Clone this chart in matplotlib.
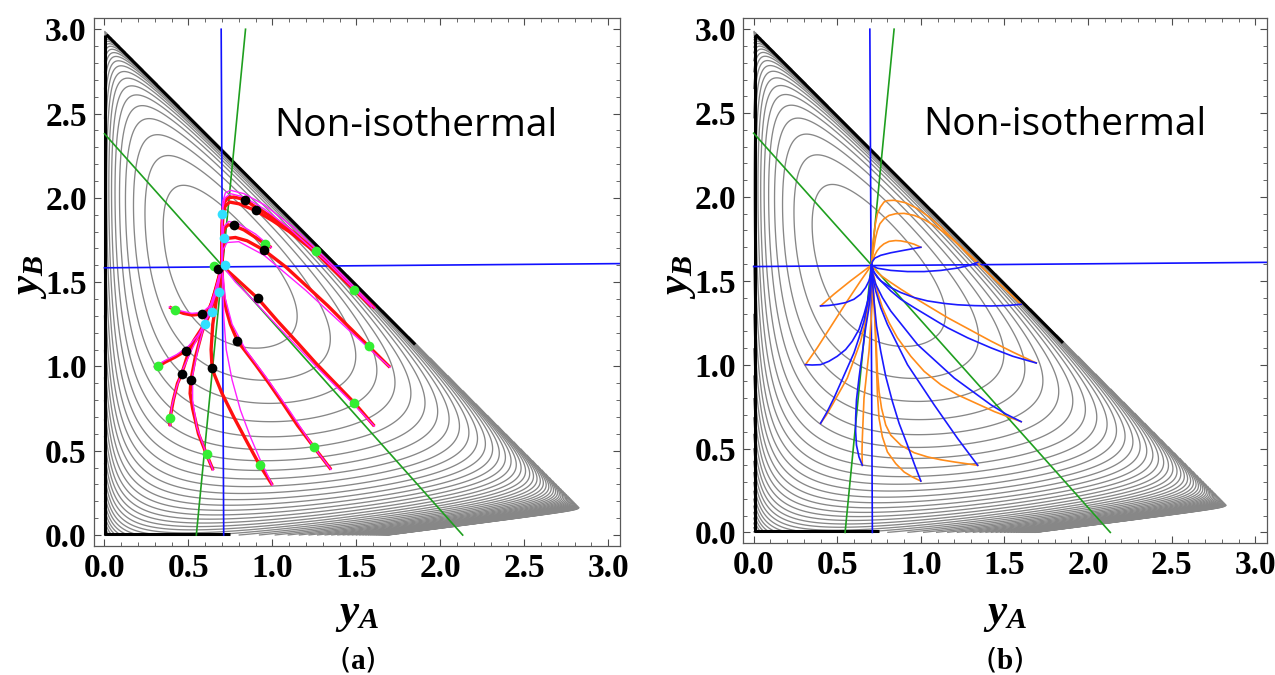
import numpy as np
import matplotlib.pyplot as plt

plt.rcParams['mathtext.fontset'] = 'custom'
plt.rcParams['mathtext.it'] = 'Liberation Serif:italic:bold'
plt.rcParams['mathtext.rm'] = 'Liberation Serif'
plt.rcParams['mathtext.bf'] = 'Liberation Serif:bold'
plt.rcParams['contour.negative_linestyle'] = 'solid'

# ---- background level function (gray contour lines) ----
# F = W_A ln(yA + S_A) + W_B ln(yB + S_B - K yA) + W_C ln(TOTAL - yA - yB)
W_A, W_B, W_C = 0.836, 1.729, 0.70
S_A, S_B, K_TILT = 0.04, 0.22, 0.128
TOTAL = 3.0
CLIP_SUM = 2.99
EQ_POINT = (0.70, 1.60)
LEVEL_STEP = 0.17
LOWEST_LEVEL = -9.0

# ---- guide lines (same in both panels) ----
blue_vert_x, blue_vert_y = [0.71, 0.695], [0.0, 3.0]
blue_horz_x, blue_horz_y = [0.0, 3.07], [1.585, 1.61]
green_steep_x, green_steep_y = [0.547, 0.84], [0.0, 3.0]
green_diag_x, green_diag_y = [0.0, 2.133], [2.38, 0.0]

# dense edges of the level set family
edge_left_x, edge_left_y = [0.006, 0.006], [0.0, 2.965]
edge_hyp_x, edge_hyp_y = [0.012, 1.85], [2.968, 1.13]
edge_bot_x, edge_bot_y = [0.0, 0.75], [0.006, 0.006]

# ---- panel (a): trajectories, red = model 1, magenta = model 2 ----
red_curves = [
    [(1.61, 1.345), (1.49, 1.455), (1.36, 1.58), (1.24, 1.70), (1.12, 1.80), (1.0, 1.885),
     (0.90, 1.945), (0.835, 1.99), (0.77, 2.005), (0.735, 2.0), (0.715, 1.975), (0.705, 1.93),
     (0.70, 1.85), (0.70, 1.75), (0.70, 1.60)],
    [(1.59, 1.355), (1.45, 1.49), (1.35, 1.585), (1.26, 1.675), (1.10, 1.80), (1.0, 1.865),
     (0.90, 1.925), (0.80, 1.965), (0.745, 1.975), (0.718, 1.95), (0.706, 1.90), (0.70, 1.80),
     (0.70, 1.60)],
    [(0.994, 1.705), (0.954, 1.729), (0.90, 1.765), (0.83, 1.81), (0.77, 1.835), (0.735, 1.84),
     (0.715, 1.82), (0.705, 1.78), (0.70, 1.70), (0.70, 1.60)],
    [(1.70, 0.995), (1.573, 1.12), (1.45, 1.24), (1.33, 1.36), (1.20, 1.48), (1.08, 1.59),
     (0.95, 1.69), (0.85, 1.745), (0.78, 1.765), (0.735, 1.76), (0.712, 1.73), (0.703, 1.67),
     (0.70, 1.60)],
    [(1.607, 0.646), (1.488, 0.784), (1.37, 0.905), (1.26, 1.018), (1.15, 1.14), (1.03, 1.27),
     (0.912, 1.405), (0.84, 1.47), (0.78, 1.525), (0.73, 1.57), (0.70, 1.60)],
    [(1.349, 0.389), (1.245, 0.524), (1.15, 0.65), (1.063, 0.78), (0.98, 0.90), (0.90, 1.01),
     (0.792, 1.152), (0.75, 1.25), (0.726, 1.334), (0.71, 1.42), (0.703, 1.50), (0.70, 1.60)],
    [(1.0, 0.296), (0.924, 0.415), (0.85, 0.55), (0.77, 0.70), (0.70, 0.84), (0.655, 0.95),
     (0.641, 0.988), (0.635, 1.10), (0.645, 1.25), (0.67, 1.42), (0.70, 1.60)],
    [(0.647, 0.385), (0.608, 0.478), (0.56, 0.60), (0.525, 0.75), (0.51, 0.84), (0.515, 0.919),
     (0.54, 1.05), (0.58, 1.20), (0.64, 1.38), (0.70, 1.60)],
    [(0.39, 0.646), (0.39, 0.692), (0.41, 0.80), (0.435, 0.90), (0.459, 0.954), (0.49, 1.05),
     (0.53, 1.15), (0.598, 1.255), (0.635, 1.37), (0.67, 1.48), (0.70, 1.60)],
    [(0.295, 0.998), (0.32, 1.0), (0.36, 1.025), (0.42, 1.055), (0.485, 1.093), (0.54, 1.15),
     (0.59, 1.23), (0.627, 1.314), (0.66, 1.42), (0.685, 1.51), (0.70, 1.60)],
    [(0.386, 1.353), (0.42, 1.334), (0.47, 1.315), (0.52, 1.305), (0.578, 1.31), (0.62, 1.34),
     (0.671, 1.436), (0.69, 1.52), (0.70, 1.60)],
    [(0.64, 1.595), (0.677, 1.578), (0.70, 1.60)],
]
magenta_curves = [
    [(1.61, 1.345), (1.36, 1.60), (1.12, 1.83), (0.95, 1.96), (0.83, 2.025), (0.75, 2.045),
     (0.72, 2.03), (0.705, 1.98), (0.70, 1.85), (0.70, 1.60)],
    [(1.59, 1.355), (1.35, 1.595), (1.10, 1.82), (0.95, 1.935), (0.83, 2.005), (0.75, 2.025),
     (0.718, 2.0), (0.705, 1.94), (0.70, 1.80), (0.70, 1.60)],
    [(0.994, 1.705), (0.90, 1.785), (0.80, 1.845), (0.74, 1.86), (0.71, 1.83), (0.70, 1.70),
     (0.70, 1.60)],
    [(1.70, 0.995), (1.45, 1.22), (1.20, 1.45), (0.95, 1.66), (0.80, 1.74), (0.73, 1.735),
     (0.705, 1.69), (0.70, 1.60)],
    [(1.607, 0.646), (1.49, 0.77), (1.26, 1.0), (1.03, 1.24), (0.88, 1.40), (0.78, 1.50),
     (0.72, 1.575), (0.70, 1.60)],
    [(1.349, 0.389), (1.24, 0.53), (1.10, 0.74), (0.96, 0.94), (0.84, 1.10), (0.76, 1.25),
     (0.72, 1.40), (0.70, 1.60)],
    [(1.0, 0.296), (0.93, 0.44), (0.87, 0.58), (0.81, 0.74), (0.76, 0.92), (0.725, 1.10),
     (0.71, 1.30), (0.70, 1.60)],
    [(0.647, 0.385), (0.60, 0.50), (0.55, 0.64), (0.525, 0.80), (0.525, 0.95), (0.56, 1.12),
     (0.61, 1.30), (0.66, 1.45), (0.70, 1.60)],
    [(0.39, 0.646), (0.40, 0.76), (0.43, 0.88), (0.47, 0.99), (0.52, 1.10), (0.58, 1.22),
     (0.64, 1.38), (0.70, 1.60)],
    [(0.295, 0.998), (0.36, 1.035), (0.43, 1.07), (0.50, 1.12), (0.56, 1.19), (0.62, 1.30),
     (0.67, 1.45), (0.70, 1.60)],
    [(0.386, 1.353), (0.45, 1.33), (0.52, 1.315), (0.58, 1.32), (0.63, 1.36), (0.67, 1.44),
     (0.70, 1.60)],
]
green_dots_x = [1.488, 1.26, 0.954, 1.573, 1.488, 1.245, 0.924, 0.608, 0.39, 0.32, 0.42, 0.651]
green_dots_y = [1.456, 1.685, 1.729, 1.12, 0.784, 0.524, 0.415, 0.478, 0.692, 1.0, 1.334, 1.594]
black_dots_x = [0.835, 0.90, 0.77, 0.95, 0.912, 0.792, 0.641, 0.515, 0.459, 0.485, 0.578, 0.677]
black_dots_y = [1.99, 1.93, 1.84, 1.69, 1.405, 1.152, 0.988, 0.919, 0.954, 1.093, 1.31, 1.577]
cyan_dots_x = [0.70, 0.71, 0.72, 0.68, 0.64, 0.60]
cyan_dots_y = [1.907, 1.76, 1.60, 1.44, 1.32, 1.25]

# ---- panel (b): trajectories, blue = model 1, orange = model 2 ----
blue_curves = [
    [(0.705, 1.594), (0.71, 1.615), (0.725, 1.635), (0.76, 1.652), (0.82, 1.667), (0.90, 1.682),
     (1.0, 1.70)],
    [(0.705, 1.594), (0.74, 1.575), (0.82, 1.562), (0.92, 1.555), (1.02, 1.555), (1.12, 1.562),
     (1.22, 1.576), (1.29, 1.592), (1.34, 1.61)],
    [(0.705, 1.594), (0.72, 1.55), (0.76, 1.50), (0.82, 1.46), (0.88, 1.43), (0.96, 1.40),
     (1.04, 1.38), (1.14, 1.365), (1.22, 1.357), (1.32, 1.352), (1.42, 1.35), (1.52, 1.353),
     (1.60, 1.36)],
    [(0.705, 1.594), (0.715, 1.56), (0.74, 1.52), (0.78, 1.48), (0.82, 1.44), (0.88, 1.39),
     (0.96, 1.34), (1.06, 1.28), (1.16, 1.22), (1.28, 1.16), (1.42, 1.10), (1.55, 1.05),
     (1.69, 1.01)],
    [(0.705, 1.594), (0.712, 1.54), (0.73, 1.48), (0.77, 1.40), (0.82, 1.32), (0.90, 1.22),
     (0.98, 1.12), (1.09, 1.02), (1.20, 0.92), (1.31, 0.84), (1.42, 0.76), (1.51, 0.705),
     (1.60, 0.66)],
    [(0.705, 1.594), (0.712, 1.52), (0.73, 1.44), (0.76, 1.34), (0.80, 1.24), (0.86, 1.12),
     (0.92, 1.0), (1.0, 0.88), (1.08, 0.76), (1.15, 0.66), (1.22, 0.56), (1.28, 0.48),
     (1.34, 0.40)],
    [(0.705, 1.594), (0.71, 1.50), (0.72, 1.38), (0.735, 1.23), (0.76, 1.08), (0.79, 0.93),
     (0.83, 0.78), (0.87, 0.65), (0.92, 0.52), (0.96, 0.41), (1.0, 0.306)],
    [(0.705, 1.594), (0.703, 1.52), (0.70, 1.44), (0.688, 1.33), (0.67, 1.22), (0.65, 1.07),
     (0.63, 0.92), (0.615, 0.79), (0.61, 0.68), (0.61, 0.60), (0.615, 0.52), (0.63, 0.45),
     (0.65, 0.40)],
    [(0.705, 1.594), (0.70, 1.50), (0.68, 1.36), (0.66, 1.26), (0.63, 1.16), (0.60, 1.07),
     (0.56, 0.98), (0.52, 0.89), (0.48, 0.80), (0.44, 0.72), (0.40, 0.65)],
    [(0.705, 1.594), (0.703, 1.54), (0.70, 1.48), (0.685, 1.39), (0.66, 1.30), (0.63, 1.21),
     (0.59, 1.14), (0.55, 1.09), (0.50, 1.05), (0.45, 1.02), (0.40, 1.0), (0.35, 0.998),
     (0.31, 1.0)],
    [(0.705, 1.594), (0.70, 1.54), (0.69, 1.50), (0.67, 1.46), (0.64, 1.42), (0.60, 1.39),
     (0.55, 1.37), (0.50, 1.36), (0.45, 1.353), (0.40, 1.35)],
]
orange_curves = [
    [(1.0, 1.70), (0.96, 1.718), (0.92, 1.73), (0.88, 1.738), (0.849, 1.74), (0.81, 1.735),
     (0.779, 1.72), (0.755, 1.70), (0.739, 1.68), (0.725, 1.655), (0.715, 1.63), (0.705, 1.594)],
    [(1.34, 1.61), (1.28, 1.665), (1.22, 1.72), (1.15, 1.78), (1.08, 1.83), (1.02, 1.865),
     (0.96, 1.89), (0.90, 1.902), (0.85, 1.90), (0.81, 1.89), (0.78, 1.87), (0.755, 1.84),
     (0.74, 1.80), (0.728, 1.75), (0.72, 1.70), (0.712, 1.65), (0.705, 1.594)],
    [(1.60, 1.36), (1.52, 1.435), (1.44, 1.51), (1.36, 1.585), (1.28, 1.66), (1.20, 1.74),
     (1.12, 1.82), (1.05, 1.88), (0.98, 1.93), (0.91, 1.965), (0.84, 1.98), (0.80, 1.978),
     (0.78, 1.97), (0.758, 1.94), (0.74, 1.90), (0.728, 1.84), (0.72, 1.78), (0.713, 1.72),
     (0.71, 1.66), (0.705, 1.594)],
    [(1.69, 1.01), (1.55, 1.075), (1.42, 1.14), (1.29, 1.21), (1.16, 1.28), (1.06, 1.34),
     (0.96, 1.40), (0.88, 1.45), (0.82, 1.49), (0.77, 1.525), (0.74, 1.55), (0.705, 1.594)],
    [(1.60, 0.66), (1.52, 0.69), (1.44, 0.72), (1.33, 0.77), (1.22, 0.82), (1.12, 0.88),
     (1.02, 0.96), (0.94, 1.05), (0.86, 1.16), (0.81, 1.25), (0.77, 1.34), (0.745, 1.42),
     (0.73, 1.48), (0.705, 1.594)],
    [(1.34, 0.40), (1.27, 0.41), (1.20, 0.42), (1.12, 0.433), (1.04, 0.45), (0.96, 0.475),
     (0.88, 0.52), (0.82, 0.58), (0.79, 0.64), (0.765, 0.74), (0.75, 0.84), (0.74, 0.96),
     (0.735, 1.08), (0.728, 1.23), (0.72, 1.38), (0.705, 1.594)],
    [(1.0, 0.306), (0.95, 0.33), (0.90, 0.36), (0.85, 0.41), (0.80, 0.48), (0.77, 0.57),
     (0.75, 0.68), (0.74, 0.83), (0.735, 0.98), (0.728, 1.18), (0.72, 1.38), (0.705, 1.594)],
    [(0.65, 0.40), (0.648, 0.48), (0.65, 0.56), (0.655, 0.68), (0.66, 0.80), (0.675, 0.94),
     (0.69, 1.08), (0.70, 1.23), (0.71, 1.38), (0.705, 1.594)],
    [(0.40, 0.65), (0.435, 0.70), (0.47, 0.76), (0.515, 0.84), (0.56, 0.92), (0.60, 1.03),
     (0.64, 1.14), (0.67, 1.26), (0.69, 1.38), (0.705, 1.594)],
    [(0.31, 1.0), (0.345, 1.05), (0.38, 1.10), (0.425, 1.17), (0.47, 1.24), (0.515, 1.31),
     (0.56, 1.38), (0.60, 1.44), (0.64, 1.50), (0.675, 1.55), (0.705, 1.594)],
    [(0.40, 1.35), (0.44, 1.385), (0.48, 1.42), (0.53, 1.46), (0.58, 1.50), (0.62, 1.53),
     (0.66, 1.56), (0.705, 1.594)],
]

TICKS = [0.0, 0.5, 1.0, 1.5, 2.0, 2.5, 3.0]
TICK_LABELS = ['0.0', '0.5', '1.0', '1.5', '2.0', '2.5', '3.0']


def level_value(x, y):
    return (W_A * np.log(x + S_A) + W_B * np.log(y + S_B - K_TILT * x)
            + W_C * np.log(TOTAL - x - y))


def level_field():
    gx = np.linspace(0.0, 3.0, 1200)
    gy = np.linspace(0.0, 3.0, 1200)
    X, Y = np.meshgrid(gx, gy)
    Z = np.full(X.shape, np.nan)
    ok = ((X + Y) < CLIP_SUM) & ((Y + S_B - K_TILT * X) > 0.002)
    Z[ok] = level_value(X[ok], Y[ok])
    top = level_value(*EQ_POINT)
    levels = np.arange(top - LEVEL_STEP, LOWEST_LEVEL, -LEVEL_STEP)[::-1]
    return X, Y, Z, levels


def setup_axes(ax):
    ax.set_xlim(-0.064, 3.07)
    ax.set_ylim(-0.063, 3.065)
    ax.set_xticks(TICKS)
    ax.set_xticklabels(TICK_LABELS)
    ax.set_yticks(TICKS)
    ax.set_yticklabels(TICK_LABELS)
    ax.set_xticks(np.arange(0.0, 3.05, 0.1), minor=True)
    ax.set_yticks(np.arange(0.0, 3.05, 0.1), minor=True)
    ax.tick_params(which='both', direction='in', top=True, right=True, color='0.3')
    ax.tick_params(which='major', length=5, width=0.8, pad=5)
    ax.tick_params(which='minor', length=3, width=0.6)
    for lab in ax.get_xticklabels() + ax.get_yticklabels():
        lab.set_fontfamily('Liberation Serif')
        lab.set_fontweight('bold')
        lab.set_fontsize(24)
    for sp in ax.spines.values():
        sp.set_color('0.35')
        sp.set_linewidth(0.9)


def draw_background(ax, X, Y, Z, levels):
    ax.contour(X, Y, Z, levels=levels, colors='0.53', linewidths=0.95, linestyles='solid')
    for ex_, ey_ in [(edge_left_x, edge_left_y), (edge_hyp_x, edge_hyp_y), (edge_bot_x, edge_bot_y)]:
        ax.plot(ex_, ey_, color='black', lw=2.2, solid_capstyle='butt')
    ax.plot(blue_vert_x, blue_vert_y, color='#1010ff', lw=1.2)
    ax.plot(blue_horz_x, blue_horz_y, color='#1010ff', lw=1.2)
    ax.plot(green_steep_x, green_steep_y, color='#1f9f1f', lw=1.2)
    ax.plot(green_diag_x, green_diag_y, color='#1f9f1f', lw=1.2)
    ax.text(1.013, 2.367, 'Non-isothermal', family='Open Sans', fontsize=28, va='baseline', ha='left')


X, Y, Z, levels = level_field()

fig = plt.figure(figsize=(12.75, 6.75), dpi=100)
ax_a = fig.add_axes([0.0735, 0.1916, 0.4128, 0.7813])
ax_b = fig.add_axes([0.5827, 0.1956, 0.4110, 0.7773])

# panel (a)
draw_background(ax_a, X, Y, Z, levels)
for pts in red_curves:
    xs, ys = zip(*pts)
    ax_a.plot(xs, ys, color='#ff1010', lw=2.4, solid_capstyle='butt')
for pts in magenta_curves:
    xs, ys = zip(*pts)
    ax_a.plot(xs, ys, color='#ff20ff', lw=1.0)
ax_a.plot(green_dots_x, green_dots_y, 'o', color='#33ee33', ms=7, mec='none')
ax_a.plot(black_dots_x, black_dots_y, 'o', color='black', ms=7, mec='none')
ax_a.plot(cyan_dots_x, cyan_dots_y, 'o', color='#30e0ff', ms=7, mec='none')
setup_axes(ax_a)

# panel (b)
draw_background(ax_b, X, Y, Z, levels)
for pts in orange_curves:
    xs, ys = zip(*pts)
    ax_b.plot(xs, ys, color='#ff8c1a', lw=1.2)
for pts in blue_curves:
    xs, ys = zip(*pts)
    ax_b.plot(xs, ys, color='#1a1aff', lw=1.2)
setup_axes(ax_b)

# axis labels and panel tags
for cx in (0.280, 0.788):
    fig.text(cx, 0.092, r'$y_A$', fontsize=31, ha='center', va='center')
fig.text(0.022, 0.59, r'$y_B$', fontsize=31, ha='center', va='center', rotation=90)
fig.text(0.531, 0.59, r'$y_B$', fontsize=31, ha='center', va='center', rotation=90)
fig.text(0.280, 0.022, r'($\mathbf{a}$)', fontsize=21, ha='center', va='center')
fig.text(0.788, 0.022, r'($\mathbf{b}$)', fontsize=21, ha='center', va='center')

fig.savefig('out.png', dpi=100)
